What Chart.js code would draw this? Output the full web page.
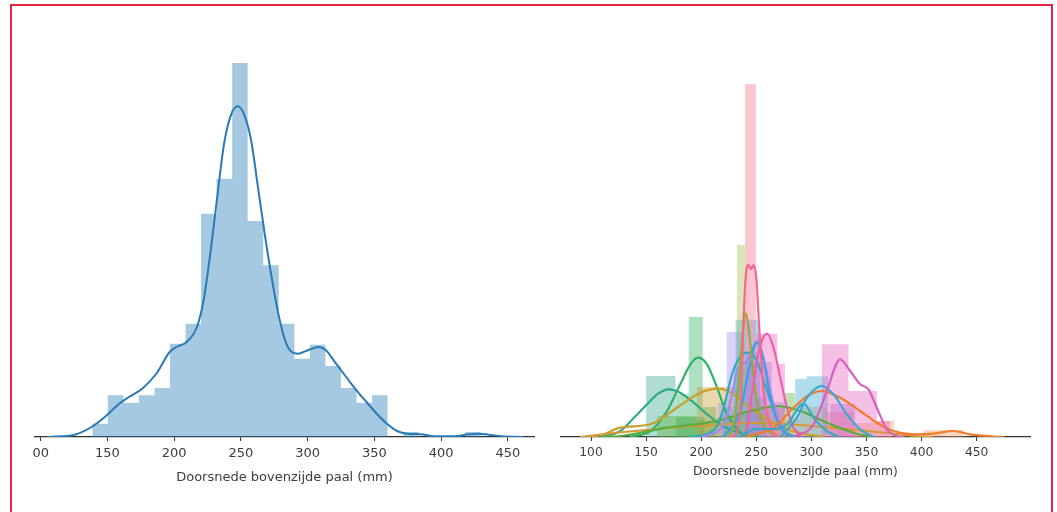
<!DOCTYPE html>
<html>
<head>
<meta charset="utf-8">
<script src="https://cdn.jsdelivr.net/npm/chart.js@4"></script>
<style>
  html, body { margin: 0; padding: 0; background: #fff; overflow: hidden; }
  canvas { position: absolute; top: 0; }
  #links { left: 0; }
  #rechts { left: 540px; }
  .kader { position: absolute; left: 10px; top: 4px; width: 1043px; height: 540px;
           box-sizing: border-box; border: 2px solid #e3283e; border-bottom: none; pointer-events: none; }
</style>
</head>
<body>
<canvas id="links" width="540" height="512"></canvas>
<canvas id="rechts" width="517" height="512"></canvas>
<div class="kader"></div>
<script>
// tick labels
const xTicks = [100, 150, 200, 250, 300, 350, 400, 450];
const xTickLabelsLinks = ["00", "150", "200", "250", "300", "350", "400", "450"];
const xTickLabelsRechts = ["100", "150", "200", "250", "300", "350", "400", "450"];
const asTitel = "Doorsnede bovenzijde paal (mm)";

// linker paneel: histogram (bin-randen + hoogtes) en kde
const binRanden = [138.6, 150.2, 161.9, 173.5, 185.2, 196.8, 208.5, 220.1, 231.7, 243.4, 255.0, 266.7, 278.3,
  290.0, 301.6, 313.2, 324.9, 336.5, 348.2, 359.8, 371.5, 383.1, 394.8, 406.4, 418.0, 429.7, 441.3];
const binHoogtes = [13.3, 41.7, 34.3, 41.7, 49, 93.3, 113.3, 223.3, 258.3, 374, 216, 171.7, 113.3,
  78.3, 92.3, 71, 49, 34.3, 41.7, 0, 5, 0, 0, 0, 5, 0];
const kdeAlles = [[105,0],[125.4,2.3],[138,10],[148,20],[158.5,33],[166,40],[176,48.3],[186.4,63],[196.6,85],
  [201.7,90],[209.3,95],[217,110],[222,136.7],[227,183],[232.2,240],[237.3,293],[242.4,321.7],[247.5,330.7],
  [252.6,321.7],[257.6,296.7],[262.7,250],[267.8,203],[272.9,160],[278,123],[283,96.7],[288,85],[293,83.3],
  [300.9,87.3],[308.5,90],[313.6,86.7],[321.2,73.3],[328.8,60],[336.5,46.7],[344,35],[351.7,23.3],[359.3,13.3],
  [367,6],[374.6,3.3],[384.8,2.7],[395,0.7],[410,0.7],[420.4,2.7],[428,3.3],[435.6,2.3],[445.8,0.7],[461,0]];

// rechter paneel: histogrammen per groep
const tealRanden = [150, 176.6, 203.2];          const tealHoogtes = [61, 20];
const groenRanden = [176.6, 188.7, 201.4, 214];  const groenHoogtes = [42.7, 120, 30];
const olijfRanden = [196, 214, 232.5];           const olijfHoogtes = [50, 50];
const geelgroenRanden = [232.5, 239.7];          const geelgroenHoogtes = [192];
const roodroseRanden = [239.7, 249.7];           const roodroseHoogtes = [352.7];
const blauwRanden = [231, 242.3, 253.6];         const blauwHoogtes = [117, 117];
const lilaRanden = [215, 223, 231.4, 239.7];     const lilaHoogtes = [34, 105, 105];
const paarsRanden = [240, 252, 264, 276];        const paarsHoogtes = [85, 75, 35];
const cyaanRanden = [219.5, 229.5, 239.5, 249.5, 259.5]; const cyaanHoogtes = [30, 70, 75, 40];
const roseRanden = [249.7, 259.5, 269, 276];     const roseHoogtes = [103.3, 103.3, 73.3];
const breedgroenRanden = [160, 178, 196, 214, 232, 250, 268, 276, 285];
const breedgroenHoogtes = [21, 21, 16, 20, 25, 30, 30, 44];
const lichtblauwRanden = [285.2, 295.7, 315.4];  const lichtblauwHoogtes = [58.3, 60.7];
const magentaRanden = [309.5, 333.7, 359.4, 371.5]; const magentaHoogtes = [92.7, 46, 16];
const mauveRanden = [317, 340];                  const mauveHoogtes = [33];
const oranjeRanden = [266, 290, 314, 338, 359.4, 375, 401.7, 420, 438];
const oranjeHoogtes = [18, 30, 25, 14, 16, 0, 7, 7];

// rechter paneel: kde-lijnen per groep
const tealKde = [[108.6,0],[126.7,6],[138.8,19],[150.9,32.7],[160,42.7],[170.5,47.7],[181,44.3],[193.2,34.3],
  [205.3,22.7],[217.4,12.7],[229.5,6],[244.6,1],[255,0]];
const groenKde = [[135,0],[153.9,6],[169,26],[181,52.7],[190.2,72.7],[197.1,79.3],[205.3,72.7],[214.4,49.3],
  [223.4,22.7],[232.5,7.7],[241.5,1],[250,0]];
const olijfKde = [[95,0],[108.6,1.7],[126.7,9.3],[153.9,12.7],[178,29.3],[199.2,44.3],[215.9,48.3],[229.5,42.7],
  [244.6,29.3],[259.7,17.7],[277.8,7.7],[295.9,2.7],[312,0]];
const okerKde = [[90,0],[130,5],[170,9],[210,12],[250,14],[290,12],[330,8],[370,4],[395,1],[410,0]];
const geelgroenKde = [[223.4,0],[229.5,12.7],[234,52.7],[237.6,102.7],[240.6,123.3],[243.7,102.7],[247.6,59.3],
  [252.1,26],[258.2,9.3],[265.7,2.7],[272,0]];
const roodroseKde = [[225,0],[229.5,1],[235.5,26],[238.5,119.3],[240.6,162.7],[243,172],[245.2,168],[247.6,172],
  [250,159.3],[253,102.7],[256.6,46],[261.2,16],[265.7,3.3],[272,0]];
const blauwKde = [[220,0],[235.5,26],[243,66],[250.6,94.3],[256.6,76],[262.7,39.3],[270.2,12.7],[277.8,2],[285,0]];
const lilaKde = [[200,0],[220.4,12.7],[228,42.7],[232.5,66],[241.5,76],[250.6,96],[256.6,79.3],[264.2,39.3],
  [271.8,12.7],[281,0]];
const roseKde = [[235,0],[241.5,9.3],[246,42.7],[250.6,76],[255,96],[259.7,103.3],[265.7,89.3],[271.8,59.3],
  [277.8,29.3],[283.8,9.3],[292,0]];
const cyaanKde = [[190,0],[205,3],[215,12],[220.4,29.3],[228,62.7],[234,78],[241.5,84.3],[250.6,76],[259.7,46],
  [268.7,19.3],[277.8,4.3],[287,0]];
const breedgroenKde = [[110,0],[126.7,1],[169,9.3],[214.4,16],[244.6,26],[268.7,31],[289.9,26],[314,14.3],
  [338.2,4.3],[356.3,0]];
const oranjeKde = [[240,0],[265.7,9.3],[283.8,29.3],[298.9,42.7],[309.5,46],[326.1,39.3],[344.3,26],[359.4,14.3],
  [374.5,6],[392.6,2.7],[410.7,3.3],[428.8,6],[443.9,2.7],[465,0.5],[475,0]];
const lichtblauwKde = [[272,0],[286.9,19.3],[296,39.3],[309.5,51],[320,42.7],[332.2,22.7],[344.3,7.7],[356.3,0]];
const cyaan2Kde = [[235,0],[250,8],[265.7,8],[277.8,12.7],[292.9,33.3],[302,19.3],[314,6],[325,0]];
const magentaKde = [[283.8,0],[302,12.7],[314,46],[326.1,77.7],[335.2,66],[344.3,52.7],[351.8,47.7],[359.4,29.3],
  [368.4,7.7],[377.5,1],[385,0]];

const tekstKleur = "#3c3c3c";

function trap(randen, hoogtes) {
  const pts = hoogtes.map((h, i) => ({ x: randen[i], y: h }));
  pts.push({ x: randen[randen.length - 1], y: 0 });
  return pts;
}

function histSet(randen, hoogtes, kleur) {
  return {
    type: "line", data: trap(randen, hoogtes), stepped: "before", fill: "origin",
    backgroundColor: kleur + "66", borderColor: "transparent", borderWidth: 0,
    pointRadius: 0, order: 2
  };
}

function kdeSet(paren, kleur, dikte) {
  return {
    type: "line", data: paren.map(p => ({ x: p[0], y: p[1] })), fill: false,
    borderColor: kleur, borderWidth: dikte, pointRadius: 0,
    cubicInterpolationMode: "monotone", order: 1
  };
}

function opties(min, max, labels, pad, fontSize, tickPad, titelPad) {
  return {
    responsive: false, animation: false, events: [],
    layout: { padding: pad },
    plugins: { legend: { display: false }, tooltip: { enabled: false } },
    scales: {
      x: {
        type: "linear", min: min, max: max,
        afterBuildTicks: (s) => { s.ticks = xTicks.map(v => ({ value: v })); },
        afterFit: (s) => { s.height = 75; },
        ticks: {
          color: tekstKleur, padding: tickPad, maxRotation: 0, autoSkip: false,
          font: { family: "DejaVu Sans", size: fontSize },
          callback: (v) => labels[xTicks.indexOf(v)]
        },
        grid: { drawOnChartArea: false, drawTicks: true, tickLength: 4, color: "#333" },
        border: { display: true, color: "#333", width: 1.3 },
        title: {
          display: true, text: asTitel, color: tekstKleur,
          font: { family: "DejaVu Sans", size: fontSize }, padding: { top: 0, bottom: titelPad }
        }
      },
      y: { display: false, min: 0, max: 400 }
    }
  };
}

new Chart(document.getElementById("links"), {
  type: "line",
  data: {
    datasets: [
      kdeSet(kdeAlles, "#2a7ab7", 2),
      histSet(binRanden, binHoogtes, "#1f77b4")
    ]
  },
  options: opties(95.7, 469.5, xTickLabelsLinks, { left: 35, right: 6, top: 37, bottom: 0 }, 13, 5, 27)
});

const groepen = [
  [tealRanden, tealHoogtes, "#36ab8e"],
  [groenRanden, groenHoogtes, "#32b166"],
  [breedgroenRanden, breedgroenHoogtes, "#5cae35"],
  [olijfRanden, olijfHoogtes, "#c99c32"],
  [cyaanRanden, cyaanHoogtes, "#2fabbe"],
  [lilaRanden, lilaHoogtes, "#a48cf4"],
  [blauwRanden, blauwHoogtes, "#3ba3ec"],
  [geelgroenRanden, geelgroenHoogtes, "#a3c04a"],
  [roodroseRanden, roodroseHoogtes, "#f77189"],
  [paarsRanden, paarsHoogtes, "#9d8ced"],
  [roseRanden, roseHoogtes, "#ee62b6"],
  [oranjeRanden, oranjeHoogtes, "#f39a5c"],
  [lichtblauwRanden, lichtblauwHoogtes, "#39a7d0"],
  [mauveRanden, mauveHoogtes, "#b26ac8"],
  [magentaRanden, magentaHoogtes, "#e562c0"]
];
const lijnen = [
  [tealKde, "#2fa98a"], [groenKde, "#2fb26a"], [olijfKde, "#c9a02c"], [okerKde, "#d39a3a"],
  [breedgroenKde, "#55ad3c"], [cyaanKde, "#2fabbe"], [lilaKde, "#9d8ced"], [blauwKde, "#3d9fe6"],
  [geelgroenKde, "#9aa935"], [roseKde, "#ec5fae"], [roodroseKde, "#f4688c"], [oranjeKde, "#f07c2c"],
  [cyaan2Kde, "#35a8cc"], [lichtblauwKde, "#3aa7d4"], [magentaKde, "#d95fbe"]
];

new Chart(document.getElementById("rechts"), {
  type: "line",
  data: {
    datasets: lijnen.slice().reverse().map(l => kdeSet(l[0], l[1], 2.2))
      .concat(groepen.slice().reverse().map(g => histSet(g[0], g[1], g[2])))
  },
  options: opties(72.5, 498.4, xTickLabelsRechts, { left: 20.7, right: 27, top: 37, bottom: 0 }, 12.3, 4.5, 33)
});
</script>
</body>
</html>
